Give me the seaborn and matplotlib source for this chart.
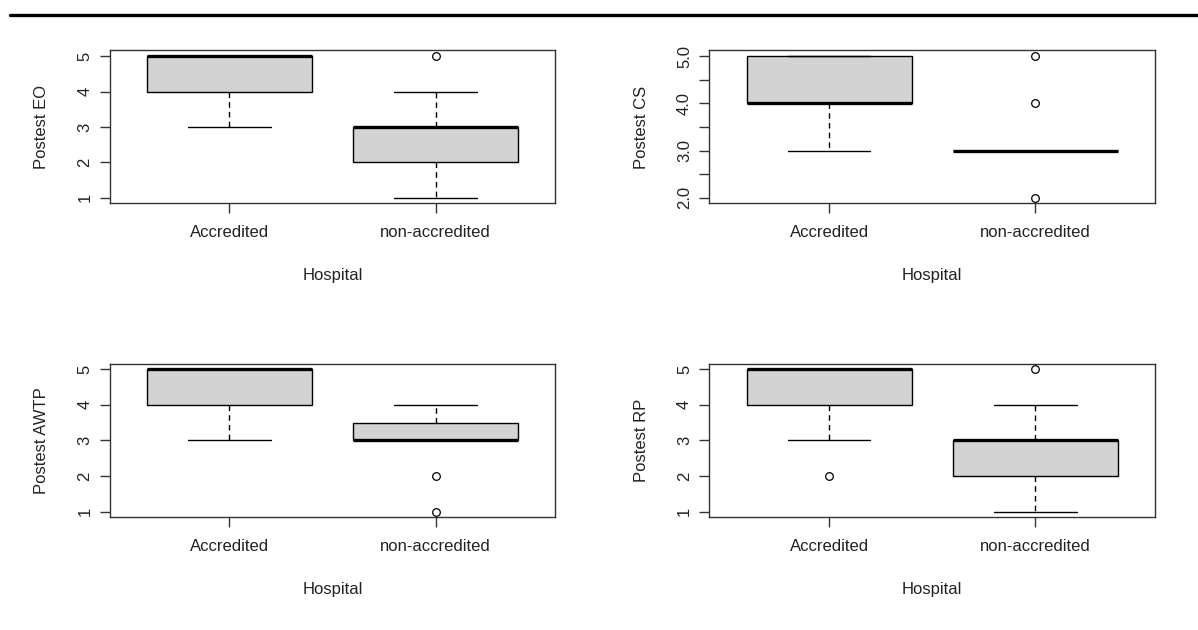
import matplotlib
matplotlib.use("Agg")
import matplotlib.pyplot as plt
from matplotlib.lines import Line2D
import seaborn as sns
import pandas as pd

# reconstructed responses
groups = ["Accredited", "non-accredited"]

eo_accredited = [3, 4, 4, 4, 5, 5, 5, 5, 5, 5, 5, 5]
eo_non = [1, 2, 2, 2, 2, 3, 3, 3, 3, 3, 3, 4, 5]

cs_accredited = [3, 4, 4, 4, 4, 4, 4, 5, 5, 5, 5]
cs_non = [2, 3, 3, 3, 3, 3, 3, 3, 3, 3, 4, 5]

awtp_accredited = [3, 4, 4, 4, 5, 5, 5, 5, 5, 5, 5, 5]
awtp_non = [1, 2, 3, 3, 3, 3, 3, 3, 4, 4, 4]

rp_accredited = [2, 3, 4, 4, 4, 5, 5, 5, 5, 5, 5, 5, 5]
rp_non = [1, 2, 2, 2, 2, 3, 3, 3, 3, 3, 3, 4, 5]

panels = [
    ("Postest EO", eo_accredited, eo_non, [1, 2, 3, 4, 5], ["1", "2", "3", "4", "5"]),
    ("Postest CS", cs_accredited, cs_non, [2.0, 2.5, 3.0, 3.5, 4.0, 4.5, 5.0],
     ["2.0", "", "3.0", "", "4.0", "", "5.0"]),
    ("Postest AWTP", awtp_accredited, awtp_non, [1, 2, 3, 4, 5], ["1", "2", "3", "4", "5"]),
    ("Postest RP", rp_accredited, rp_non, [1, 2, 3, 4, 5], ["1", "2", "3", "4", "5"]),
]

sns.set_style("ticks")
plt.rcParams["font.family"] = ["Liberation Sans", "DejaVu Sans"]
fs = 12
txt = "#222222"

fig = plt.figure(figsize=(11.98, 6.30), dpi=100)

# axes boxes [left, bottom, width, height] in figure fractions
boxes = [
    [0.0918, 0.677, 0.3715, 0.243],
    [0.5922, 0.677, 0.3719, 0.243],
    [0.0918, 0.179, 0.3715, 0.244],
    [0.5922, 0.179, 0.3719, 0.244],
]

for (ylab, acc, non, yt, ytl), pos in zip(panels, boxes):
    ax = fig.add_axes(pos)
    df = pd.DataFrame({
        "Hospital": [groups[0]] * len(acc) + [groups[1]] * len(non),
        "score": acc + non,
    })
    sns.boxplot(
        data=df, x="Hospital", y="score", order=groups, ax=ax,
        color="#d3d3d3", saturation=1, linecolor="black", linewidth=1.0,
        width=0.8, whis=1.5,
        medianprops={"linewidth": 2.4, "color": "black", "solid_capstyle": "butt"},
        whiskerprops={"linestyle": (0, (4, 3)), "linewidth": 1.0},
        capprops={"linewidth": 1.0},
        flierprops={"marker": "o", "markerfacecolor": "none",
                    "markeredgecolor": "black", "markersize": 5.5,
                    "markeredgewidth": 0.9},
    )
    lo, hi = yt[0], yt[-1]
    pad = (hi - lo) * 0.04
    ax.set_ylim(lo - pad, hi + pad)
    ax.set_xlim(-0.58, 1.58)
    ax.set_yticks(yt)
    ax.set_yticklabels(ytl, rotation=90, va="center")
    ax.set_xticks([0, 1])
    ax.set_xticklabels(groups)
    for sp in ax.spines.values():
        sp.set_visible(True)
        sp.set_color("#333333")
        sp.set_linewidth(1.0)
    ax.tick_params(axis="both", length=7, width=1.0, color="#333333",
                   labelcolor=txt, labelsize=fs)
    ax.tick_params(axis="x", pad=8.5)
    ax.tick_params(axis="y", pad=5.5)
    ax.set_ylabel(ylab, color=txt, fontsize=fs)
    ax.set_xlabel("Hospital", color=txt, fontsize=fs)
    ax.yaxis.label.set_va("center")
    ax.xaxis.label.set_va("center")
    ax.yaxis.set_label_coords(-0.153, 0.5)
    ax.xaxis.set_label_coords(0.5, -0.47)

# heavy rule across the top of the page
fig.add_artist(Line2D([0.008, 1.0], [0.976, 0.976], transform=fig.transFigure,
                      color="black", linewidth=2.4))

fig.savefig("out.png", dpi=100, facecolor="white")
